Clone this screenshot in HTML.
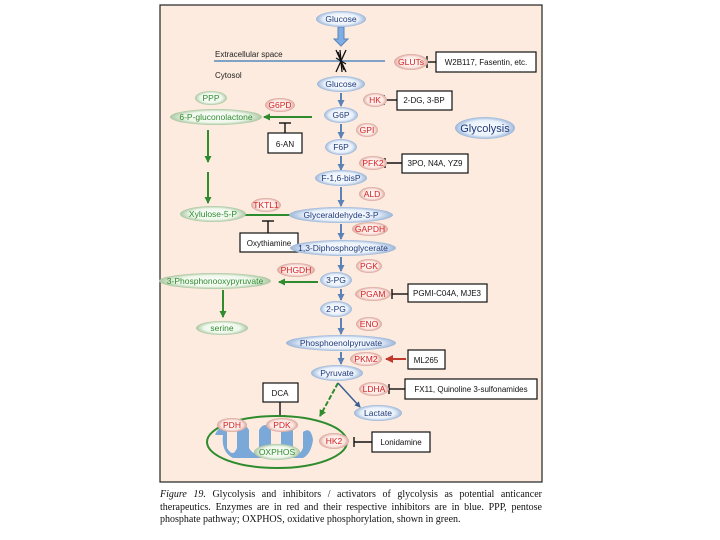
<!DOCTYPE html>
<html><head><style>
body{margin:0;background:#fff;width:720px;height:540px;overflow:hidden;font-family:"Liberation Sans",sans-serif}
.cap{position:absolute;left:160px;top:489px;width:382px;font-family:"Liberation Serif",serif;font-size:10px;line-height:12.5px;text-align:justify;color:#111}
</style></head><body>
<svg width="720" height="540" style="position:absolute;left:0;top:0" font-family="Liberation Sans, sans-serif">
<defs>
<radialGradient id="eg" cx="50%" cy="50%" r="50%"><stop offset="0" stop-color="#fff"/><stop offset="0.7" stop-color="#e8f0fa"/><stop offset="1" stop-color="#9bb5d8"/></radialGradient>
<radialGradient id="er" cx="50%" cy="50%" r="50%"><stop offset="0" stop-color="#fff"/><stop offset="0.7" stop-color="#fbe6e0"/><stop offset="1" stop-color="#d9a39a"/></radialGradient>
<radialGradient id="gg" cx="50%" cy="50%" r="50%"><stop offset="0" stop-color="#fff"/><stop offset="0.7" stop-color="#eef7ea"/><stop offset="1" stop-color="#a9c6a0"/></radialGradient>
<marker id="ab" markerUnits="userSpaceOnUse" markerWidth="7" markerHeight="7" refX="6" refY="3.5" orient="auto"><path d="M0,0L7,3.5L0,7z" fill="#5b83b8"/></marker>
<marker id="ag" markerUnits="userSpaceOnUse" markerWidth="7" markerHeight="7" refX="6" refY="3.5" orient="auto"><path d="M0,0L7,3.5L0,7z" fill="#2e8b2e"/></marker>
<marker id="ar" markerUnits="userSpaceOnUse" markerWidth="8" markerHeight="8" refX="7" refY="4" orient="auto"><path d="M0,0L8,4L0,8z" fill="#c0392b"/></marker>
<marker id="an" markerUnits="userSpaceOnUse" markerWidth="6" markerHeight="6" refX="5" refY="3" orient="auto"><path d="M0,0L6,3L0,6z" fill="#3a5f95"/></marker>
</defs>
<rect x="160" y="5" width="382" height="477" fill="#fcebde" stroke="#222" stroke-width="1.2"/>
<line x1="214" y1="61" x2="385" y2="61" stroke="#7fa3c6" stroke-width="2"/>
<text x="215" y="57" font-size="8" fill="#222">Extracellular space</text>
<text x="215" y="78" font-size="8" fill="#222">Cytosol</text>
<path d="M336,50 L346,72 M346,50 L336,72 M338,52 L344,70 M340,50 L342,72 M336,58 L346,64" stroke="#111" stroke-width="1.3"/>
<path d="M338,27 h6 v12 h4 l-7,7 l-7,-7 h4z" fill="#7eaee3" stroke="#5b83b8"/>
<g stroke="#5b83b8" stroke-width="2" marker-end="url(#ab)">
<line x1="341" y1="93" x2="341" y2="106"/><line x1="341" y1="124" x2="341" y2="138"/>
<line x1="341" y1="156" x2="341" y2="170"/><line x1="341" y1="187" x2="341" y2="206"/>
<line x1="341" y1="224" x2="341" y2="239"/><line x1="341" y1="257" x2="341" y2="271"/>
<line x1="341" y1="289" x2="341" y2="300"/><line x1="341" y1="318" x2="341" y2="334"/>
<line x1="341" y1="352" x2="341" y2="364"/>
</g>
<g stroke="#2e8b2e" stroke-width="2" marker-end="url(#ag)" fill="none">
<line x1="312" y1="117" x2="264" y2="117"/>
<line x1="208" y1="130" x2="208" y2="162"/><line x1="208" y1="172" x2="208" y2="203"/>
<line x1="240" y1="215" x2="304" y2="215"/>
<line x1="318" y1="282" x2="279" y2="282"/>
<line x1="223" y1="290" x2="223" y2="317"/>
<line x1="338" y1="383" x2="320" y2="416" stroke-dasharray="5,2"/>
</g>
<line x1="338" y1="383" x2="360" y2="407" stroke="#3a5f95" stroke-width="1.5" marker-end="url(#an)"/>
<line x1="406" y1="359" x2="386" y2="359" stroke="#c0392b" stroke-width="2" marker-end="url(#ar)"/>
<g stroke="#111" stroke-width="1.4">
<line x1="427" y1="62" x2="436" y2="62"/><line x1="427" y1="56" x2="427" y2="68"/>
<line x1="384" y1="100" x2="397" y2="100"/><line x1="384" y1="95" x2="384" y2="105"/>
<line x1="285" y1="123" x2="285" y2="133"/><line x1="279" y1="123" x2="291" y2="123"/>
<line x1="385" y1="163" x2="402" y2="163"/><line x1="385" y1="158" x2="385" y2="168"/>
<line x1="268" y1="221" x2="268" y2="233"/><line x1="262" y1="221" x2="274" y2="221"/>
<line x1="392" y1="294" x2="408" y2="294"/><line x1="392" y1="289" x2="392" y2="299"/>
<line x1="389" y1="389" x2="405" y2="389"/><line x1="389" y1="384" x2="389" y2="394"/>
<line x1="280" y1="402" x2="280" y2="416"/><line x1="274" y1="416" x2="286" y2="416"/>
<line x1="354" y1="442" x2="372" y2="442"/><line x1="354" y1="437" x2="354" y2="447"/>
<line x1="250" y1="425" x2="264" y2="425"/><line x1="252" y1="420" x2="252" y2="430"/>
</g>
<g fill="#fff" stroke="#111" stroke-width="1.2">
<rect x="436" y="52" width="100" height="20"/><rect x="397" y="91" width="55" height="19"/>
<rect x="268" y="133" width="34" height="20"/><rect x="402" y="154" width="66" height="19"/>
<rect x="240" y="233" width="58" height="19"/><rect x="408" y="284" width="79" height="18"/>
<rect x="408" y="350" width="37" height="19"/><rect x="405" y="379" width="132" height="20"/>
<rect x="263" y="383" width="35" height="19"/><rect x="372" y="432" width="58" height="20"/>
</g>
<g font-size="8" fill="#111" text-anchor="middle">
<text x="486" y="65">W2B117, Fasentin, etc.</text><text x="424" y="103">2-DG, 3-BP</text>
<text x="285" y="147">6-AN</text><text x="435" y="166">3PO, N4A, YZ9</text>
<text x="269" y="246">Oxythiamine</text><text x="447" y="296">PGMI-C04A, MJE3</text>
<text x="426" y="363">ML265</text><text x="471" y="392">FX11, Quinoline 3-sulfonamides</text>
<text x="280" y="396">DCA</text><text x="401" y="445">Lonidamine</text>
</g>
<ellipse cx="277" cy="442" rx="70" ry="26" fill="#fcebde" stroke="#2e8b2e" stroke-width="2"/>
<path d="M215,435 q5,-12 12,-3 v16 q6,10 10,0 v-18 q6,-10 12,0 v18 q6,10 10,0 v-18 q6,-10 12,0 v18 q6,10 10,0 v-18 q6,-10 12,0 v18 q6,10 10,0 v-16 q8,-6 10,8 q-2,14 -10,18 h-70 q-12,-6 -10,-23z" fill="#7aa8d8"/>
<g font-size="8.5" text-anchor="middle">
<g fill="url(#eg)"><ellipse cx="341" cy="19" rx="25" ry="8"/><ellipse cx="341" cy="84" rx="24" ry="8"/>
<ellipse cx="341" cy="115" rx="17" ry="8"/><ellipse cx="341" cy="147" rx="16" ry="8"/>
<ellipse cx="341" cy="178" rx="26" ry="8"/><ellipse cx="341" cy="215" rx="52" ry="8"/>
<ellipse cx="343" cy="248" rx="53" ry="8"/><ellipse cx="336" cy="280" rx="16" ry="8"/>
<ellipse cx="336" cy="309" rx="16" ry="8"/><ellipse cx="341" cy="343" rx="55" ry="8"/>
<ellipse cx="337" cy="373" rx="26" ry="8"/><ellipse cx="378" cy="413" rx="24" ry="8"/>
<ellipse cx="485" cy="128" rx="30" ry="11"/></g>
<g fill="#1f3a7a"><text x="341" y="22">Glucose</text><text x="341" y="87">Glucose</text>
<text x="341" y="118">G6P</text><text x="341" y="150">F6P</text><text x="341" y="181">F-1,6-bisP</text>
<text x="341" y="218">Glyceraldehyde-3-P</text><text x="343" y="251">1,3-Diphosphoglycerate</text>
<text x="336" y="283">3-PG</text><text x="336" y="312">2-PG</text><text x="341" y="346">Phosphoenolpyruvate</text>
<text x="337" y="376">Pyruvate</text><text x="378" y="416">Lactate</text>
<text x="485" y="132" font-size="11">Glycolysis</text></g>
<g fill="url(#er)"><ellipse cx="411" cy="62" rx="17" ry="8"/><ellipse cx="375" cy="100" rx="12" ry="7"/>
<ellipse cx="280" cy="105" rx="15" ry="7"/><ellipse cx="367" cy="130" rx="11" ry="7"/>
<ellipse cx="373" cy="163" rx="14" ry="7"/><ellipse cx="372" cy="194" rx="13" ry="7"/>
<ellipse cx="266" cy="205" rx="15" ry="7"/><ellipse cx="370" cy="229" rx="18" ry="7"/>
<ellipse cx="369" cy="266" rx="13" ry="7"/><ellipse cx="296" cy="270" rx="19" ry="7"/>
<ellipse cx="373" cy="294" rx="18" ry="7"/><ellipse cx="369" cy="324" rx="13" ry="7"/>
<ellipse cx="366" cy="359" rx="16" ry="7"/><ellipse cx="374" cy="389" rx="15" ry="7"/>
<ellipse cx="232" cy="425" rx="15" ry="7"/><ellipse cx="282" cy="425" rx="16" ry="7"/>
<ellipse cx="334" cy="441" rx="15" ry="8"/></g>
<g fill="#d62020"><text x="411" y="65">GLUTs</text><text x="375" y="103">HK</text><text x="280" y="108">G6PD</text>
<text x="367" y="133">GPI</text><text x="373" y="166">PFK2</text><text x="372" y="197">ALD</text>
<text x="266" y="208">TKTL1</text><text x="370" y="232">GAPDH</text><text x="369" y="269">PGK</text>
<text x="296" y="273">PHGDH</text><text x="373" y="297">PGAM</text><text x="369" y="327">ENO</text>
<text x="366" y="362">PKM2</text><text x="374" y="392">LDHA</text><text x="232" y="428">PDH</text>
<text x="282" y="428">PDK</text><text x="334" y="444">HK2</text></g>
<g fill="url(#gg)"><ellipse cx="211" cy="98" rx="16" ry="7"/><ellipse cx="216" cy="117" rx="46" ry="8"/>
<ellipse cx="213" cy="214" rx="33" ry="8"/><ellipse cx="215" cy="281" rx="56" ry="8"/>
<ellipse cx="222" cy="328" rx="26" ry="7"/><ellipse cx="277" cy="452" rx="23" ry="8"/></g>
<g fill="#2e8b2e"><text x="211" y="101">PPP</text><text x="216" y="120">6-P-gluconolactone</text>
<text x="213" y="217">Xylulose-5-P</text><text x="215" y="284">3-Phosphonooxypyruvate</text>
<text x="222" y="331">serine</text><text x="277" y="455">OXPHOS</text></g>
</g>
</svg>
<div class="cap"><i>Figure 19.</i> Glycolysis and inhibitors / activators of glycolysis as potential anticancer therapeutics. Enzymes are in red and their respective inhibitors are in blue. PPP, pentose phosphate pathway; OXPHOS, oxidative phosphorylation, shown in green.</div>
</body></html>
